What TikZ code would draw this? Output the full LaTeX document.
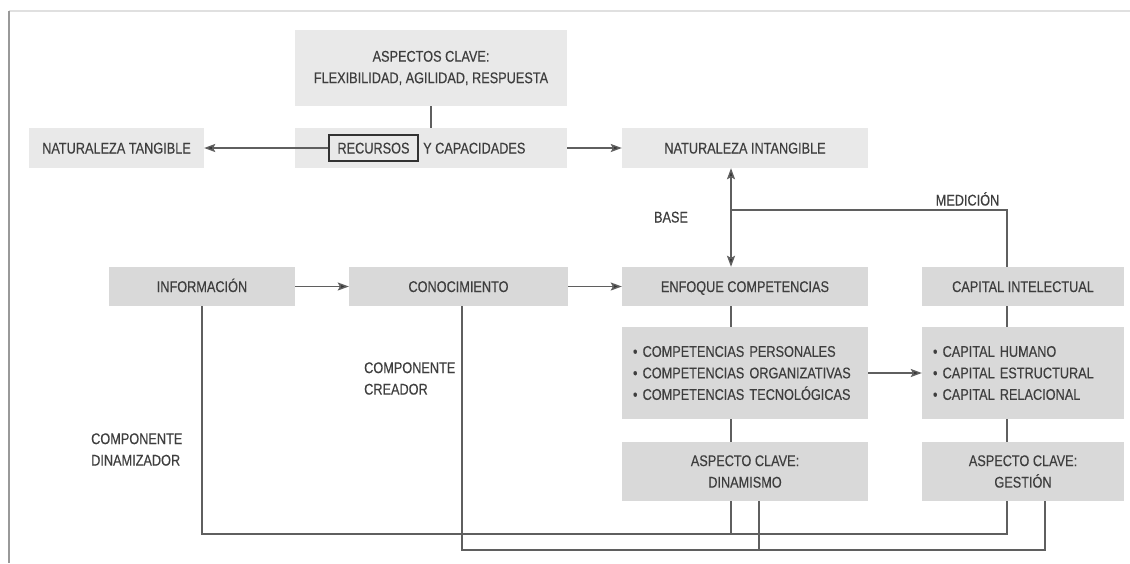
\documentclass[tikz,border=0pt]{standalone}
\usepackage{fontspec}
\setmainfont{Liberation Sans}[FakeStretch=0.82,FakeBold=0.35]
\usetikzlibrary{arrows.meta,calc}
\definecolor{boxlight}{RGB}{233,233,233}
\definecolor{boxdark}{RGB}{217,217,217}
\definecolor{ink}{RGB}{62,62,62}
\definecolor{wirecol}{RGB}{95,95,95}
\definecolor{tipcol}{RGB}{50,50,50}

\begin{document}
\begin{tikzpicture}[x=1pt,y=-1pt,
  every node/.style={font=\fontsize{15.5}{21.5}\selectfont, text=ink},
  box/.style={inner sep=0pt, align=center},
  oneline/.style={text height=11pt, text depth=0pt},
  lightbox/.style={box, fill=boxlight},
  darkbox/.style={box, fill=boxdark},
  listbox/.style={darkbox, align=left, inner xsep=11pt, text width=#1},
  wire/.style={draw=wirecol, line width=1.4pt},
  arr/.style={wire, -{Stealth[length=11pt,width=8pt,inset=2pt,fill=tipcol]}},
  darr/.style={wire, {Stealth[length=11pt,width=8pt,inset=2pt,fill=tipcol]}-{Stealth[length=11pt,width=8pt,inset=2pt,fill=tipcol]}},
  lbl/.style={inner sep=0pt, align=left}
]
\useasboundingbox[fill=white] (0,0) rectangle (1130,563);

% page frame
\draw[draw=black!12, line width=1.5pt] (9,11) -- (1130,11);
\draw[draw=black!40, line width=1.5pt] (9,11) -- (9,563);

% reference columns and levels
\coordinate (colA) at (731,0);
\coordinate (colB) at (462,0);
\coordinate (colC) at (1007,0);
\coordinate (colD) at (759,0);
\coordinate (colE) at (1045,0);
\coordinate (medy) at (0,210);
\coordinate (lowA) at (0,534);
\coordinate (lowB) at (0,550);

% top block
\node[lightbox, minimum width=272pt, minimum height=76pt] (asp) at (431,68)
  {ASPECTOS CLAVE:\\FLEXIBILIDAD, AGILIDAD, RESPUESTA};
\node[lightbox, oneline, minimum width=175pt, minimum height=40pt] (tan) at (116.5,148)
  {NATURALEZA TANGIBLE};
\node[lightbox, minimum width=272pt, minimum height=40pt] (rec) at (431,148) {};
\node[box, oneline, draw=tipcol, line width=1.2pt, minimum width=89pt, minimum height=26pt] (rw) at (373.5,148)
  {RECURSOS};
\node[box, oneline, anchor=west] (cap1) at (423,148) {Y CAPACIDADES};
\node[lightbox, oneline, minimum width=246pt, minimum height=40pt] (int) at (745,148)
  {NATURALEZA INTANGIBLE};

% second row
\node[darkbox, oneline, minimum width=186pt, minimum height=39pt] (info) at (202,286.5) {INFORMACIÓN};
\node[darkbox, oneline, minimum width=219pt, minimum height=39pt] (con) at (458.5,286.5) {CONOCIMIENTO};
\node[darkbox, oneline, minimum width=246pt, minimum height=39pt] (enf) at (745,286.5) {ENFOQUE COMPETENCIAS};
\node[darkbox, oneline, minimum width=202pt, minimum height=39pt] (cap) at (1023,286.5) {CAPITAL INTELECTUAL};

% lists
\node[listbox=224pt, minimum height=92pt] (comp) at (745,373)
  {• COMPETENCIAS PERSONALES\\• COMPETENCIAS ORGANIZATIVAS\\• COMPETENCIAS TECNOLÓGICAS};
\node[listbox=180pt, minimum height=92pt] (capb) at (1023,373)
  {• CAPITAL HUMANO\\• CAPITAL ESTRUCTURAL\\• CAPITAL RELACIONAL};

% key aspects
\node[darkbox, minimum width=246pt, minimum height=59pt] (din) at (745,471.5) {ASPECTO CLAVE:\\DINAMISMO};
\node[darkbox, minimum width=202pt, minimum height=59pt] (ges) at (1023,471.5) {ASPECTO CLAVE:\\GESTIÓN};

% free labels
\node[lbl, oneline] (base) at (671,217) {BASE};
\node[lbl, oneline] (med) at (967.5,200) {MEDICIÓN};
\node[lbl, anchor=west] (creador) at (364,378.5) {COMPONENTE\\CREADOR};
\node[lbl, anchor=west] (dinam) at (91,449.5) {COMPONENTE\\DINAMIZADOR};

% connectors of the top block
\draw[wire] (asp) -- (rec);
\draw[arr] (rw.west) -- (tan.east);
\draw[arr] (rec.east) -- (int.west);
\draw[darr] (int.south -| colA) -- (enf.north -| colA);
\draw[wire] (colA |- medy) -| (cap.north -| colC);

% connectors of the second row
\draw[arr] (info) -- (con);
\draw[arr] (con) -- (enf);
\draw[wire] (enf.south -| colA) -- (comp.north -| colA);
\draw[wire] (cap.south -| colC) -- (capb.north -| colC);
\draw[arr] (comp) -- (capb);
\draw[wire] (comp.south -| colA) -- (din.north -| colA);
\draw[wire] (capb.south -| colC) -- (ges.north -| colC);

% feedback lines along the bottom
\draw[wire] (info.south) -- (info.south |- lowA) -- (colC |- lowA) -- (ges.south -| colC);
\draw[wire] (din.south -| colA) -- (colA |- lowA);
\draw[wire] (con.south -| colB) -- (colB |- lowB) -- (colE |- lowB) -- (ges.south -| colE);
\draw[wire] (din.south -| colD) -- (colD |- lowB);
\end{tikzpicture}
\end{document}
